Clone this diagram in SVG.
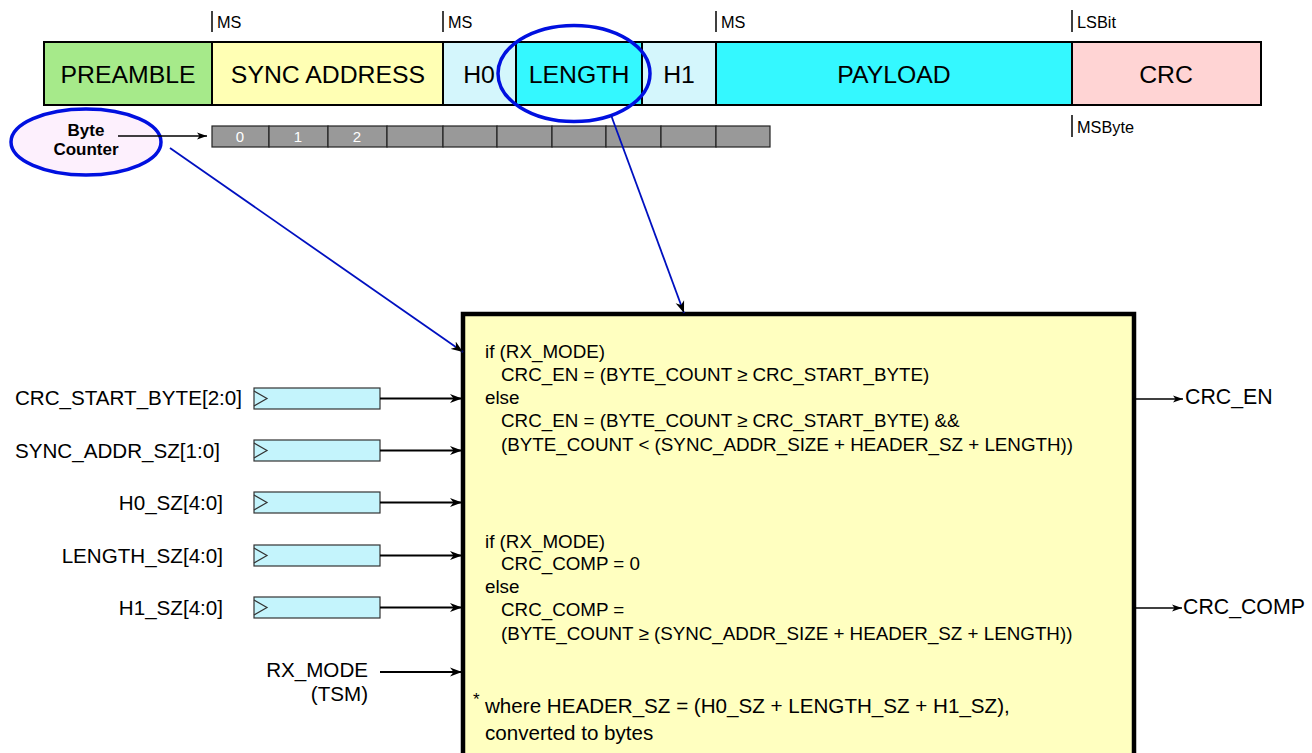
<svg xmlns="http://www.w3.org/2000/svg" width="1312" height="753" viewBox="0 0 1312 753">
<defs>
<style>
text{font-family:"Liberation Sans",Arial,Helvetica,sans-serif;fill:#000}
.seg{stroke:#000;stroke-width:2}
.segt{font-size:24.8px;text-anchor:middle}
.tick{stroke:#000;stroke-width:1.5}
.small{font-size:16.3px}
.cell{fill:#999;stroke:#222;stroke-width:1.2}
.num{font-size:15px;fill:#fff;text-anchor:middle}
.lbl{font-size:20.6px}
.out{font-size:21.3px}
.reg{fill:#c4f4fc;stroke:#333;stroke-width:1.2}
.clk{fill:none;stroke:#333;stroke-width:1.2}
.code{font-size:18.8px}
.note{font-size:20.6px}
.wire{stroke:#000;stroke-width:2;fill:none}
.thin{stroke:#000;stroke-width:1.3;fill:none}
.blue{stroke:#0010c0;stroke-width:1.8;fill:none}
.bc{font-size:17px;font-weight:bold;text-anchor:middle}
</style>
<marker id="ah" markerUnits="userSpaceOnUse" markerWidth="14" markerHeight="10" refX="12" refY="5" orient="auto">
<path d="M0,0.5 L12,5 L0,9.5 L3.5,5 z" fill="#000"/>
</marker>
<marker id="ahs" markerUnits="userSpaceOnUse" markerWidth="12" markerHeight="8" refX="10" refY="4" orient="auto">
<path d="M0,0.5 L10,4 L0,7.5 L2.5,4 z" fill="#000"/>
</marker>
</defs>

<g id="frame">
<rect class="seg" x="44" y="42" width="168" height="63" fill="#a6ea8a"/>
<rect class="seg" x="212" y="42" width="231" height="63" fill="#ffffb4"/>
<rect class="seg" x="443" y="42" width="73" height="63" fill="#d4f6fc"/>
<rect class="seg" x="516" y="42" width="126" height="63" fill="#34f8ff"/>
<rect class="seg" x="642" y="42" width="74" height="63" fill="#d4f6fc"/>
<rect class="seg" x="716" y="42" width="356" height="63" fill="#34f8ff"/>
<rect class="seg" x="1072" y="42" width="189" height="63" fill="#ffd4d4"/>
<text class="segt" x="128" y="83">PREAMBLE</text>
<text class="segt" x="328" y="83">SYNC ADDRESS</text>
<text class="segt" x="479" y="83">H0</text>
<text class="segt" x="579" y="83">LENGTH</text>
<text class="segt" x="679" y="83">H1</text>
<text class="segt" x="894" y="83">PAYLOAD</text>
<text class="segt" x="1166" y="83">CRC</text>
</g>

<g id="markers">
<line class="tick" x1="212" y1="11" x2="212" y2="32"/>
<text class="small" x="217" y="28">MS</text>
<line class="tick" x1="443" y1="11" x2="443" y2="32"/>
<text class="small" x="448" y="28">MS</text>
<line class="tick" x1="716" y1="11" x2="716" y2="32"/>
<text class="small" x="721" y="28">MS</text>
<line class="tick" x1="1072" y1="10" x2="1072" y2="32"/>
<text class="small" x="1077" y="28">LSBit</text>
<line class="tick" x1="1072" y1="115" x2="1072" y2="137"/>
<text class="small" x="1077" y="133">MSByte</text>
</g>

<g id="length-highlight">
<ellipse cx="574" cy="73.5" rx="76" ry="48" fill="none" stroke="#0010e0" stroke-width="3.5"/>
</g>

<g id="byte-counter">
<ellipse cx="86" cy="142" rx="75" ry="33" fill="#fdf0fd" stroke="#0010e0" stroke-width="3.5"/>
<text class="bc" x="86" y="136">Byte</text>
<text class="bc" x="86" y="155">Counter</text>
</g>

<g id="byte-counter-bar">
<rect class="cell" x="212" y="126" width="57" height="21"/>
<rect class="cell" x="269" y="126" width="59" height="21"/>
<rect class="cell" x="328" y="126" width="59" height="21"/>
<rect class="cell" x="387" y="126" width="56" height="21"/>
<rect class="cell" x="443" y="126" width="54" height="21"/>
<rect class="cell" x="497" y="126" width="55" height="21"/>
<rect class="cell" x="552" y="126" width="54" height="21"/>
<rect class="cell" x="606" y="126" width="55" height="21"/>
<rect class="cell" x="661" y="126" width="55" height="21"/>
<rect class="cell" x="716" y="126" width="54" height="21"/>
<text class="num" x="240" y="142">0</text>
<text class="num" x="298" y="142">1</text>
<text class="num" x="357" y="142">2</text>
</g>

<g id="logic-block">
<rect x="463" y="314" width="671" height="470" fill="#ffffc0" stroke="#000" stroke-width="4.5"/>
<text class="code" x="485" y="358">if (RX_MODE)</text>
<text class="code" x="501" y="381">CRC_EN = (BYTE_COUNT ≥ CRC_START_BYTE)</text>
<text class="code" x="485" y="404">else</text>
<text class="code" x="501" y="427">CRC_EN = (BYTE_COUNT ≥ CRC_START_BYTE) &amp;&amp;</text>
<text class="code" x="501" y="451">(BYTE_COUNT &lt; (SYNC_ADDR_SIZE + HEADER_SZ + LENGTH))</text>
<text class="code" x="485" y="548">if (RX_MODE)</text>
<text class="code" x="501" y="570">CRC_COMP = 0</text>
<text class="code" x="485" y="593">else</text>
<text class="code" x="501" y="616">CRC_COMP =</text>
<text class="code" x="501" y="640">(BYTE_COUNT ≥ (SYNC_ADDR_SIZE + HEADER_SZ + LENGTH))</text>
<text x="473" y="705" font-size="17px">*</text>
<text class="note" x="485" y="713">where HEADER_SZ = (H0_SZ + LENGTH_SZ + H1_SZ),</text>
<text class="note" x="485" y="740">converted to bytes</text>
</g>

<g id="inputs">
<text class="lbl" x="15" y="405">CRC_START_BYTE[2:0]</text>
<text class="lbl" x="15" y="458">SYNC_ADDR_SZ[1:0]</text>
<text class="lbl" x="223" y="510" text-anchor="end">H0_SZ[4:0]</text>
<text class="lbl" x="223" y="563" text-anchor="end">LENGTH_SZ[4:0]</text>
<text class="lbl" x="223" y="615" text-anchor="end">H1_SZ[4:0]</text>
<text class="lbl" x="368" y="677" text-anchor="end">RX_MODE</text>
<text class="lbl" x="368" y="701" text-anchor="end">(TSM)</text>
<g id="reg-crc-start">
<rect class="reg" x="254" y="388" width="126" height="21"/>
<path class="clk" d="M254,391 L267,398.5 L254,406"/>
</g>
<g id="reg-sync">
<rect class="reg" x="254" y="440" width="126" height="21"/>
<path class="clk" d="M254,443 L267,450.5 L254,458"/>
</g>
<g id="reg-h0">
<rect class="reg" x="254" y="492" width="126" height="21"/>
<path class="clk" d="M254,495 L267,502.5 L254,510"/>
</g>
<g id="reg-length">
<rect class="reg" x="254" y="545" width="126" height="21"/>
<path class="clk" d="M254,548 L267,555.5 L254,563"/>
</g>
<g id="reg-h1">
<rect class="reg" x="254" y="597" width="126" height="21"/>
<path class="clk" d="M254,600 L267,607.5 L254,615"/>
</g>
</g>

<g id="outputs">
<text class="out" x="1185" y="404">CRC_EN</text>
<text class="out" x="1183" y="614">CRC_COMP</text>
</g>

<g id="connectors">
<line class="wire" x1="380" y1="398.5" x2="462" y2="398.5" marker-end="url(#ah)"/>
<line class="wire" x1="380" y1="450.5" x2="462" y2="450.5" marker-end="url(#ah)"/>
<line class="wire" x1="380" y1="502.5" x2="462" y2="502.5" marker-end="url(#ah)"/>
<line class="wire" x1="380" y1="555.5" x2="462" y2="555.5" marker-end="url(#ah)"/>
<line class="wire" x1="380" y1="607.5" x2="462" y2="607.5" marker-end="url(#ah)"/>
<line class="wire" x1="380" y1="672" x2="462" y2="672" marker-end="url(#ah)"/>
<line class="thin" x1="1136" y1="399" x2="1183" y2="399" marker-end="url(#ahs)"/>
<line class="thin" x1="1136" y1="608" x2="1182" y2="608" marker-end="url(#ahs)"/>
<line class="thin" x1="118" y1="136" x2="207" y2="136" marker-end="url(#ahs)"/>
<line class="blue" x1="170" y1="148" x2="463" y2="352" marker-end="url(#ah)"/>
<line class="blue" x1="611" y1="115" x2="684" y2="313" marker-end="url(#ah)"/>
</g>
</svg>
